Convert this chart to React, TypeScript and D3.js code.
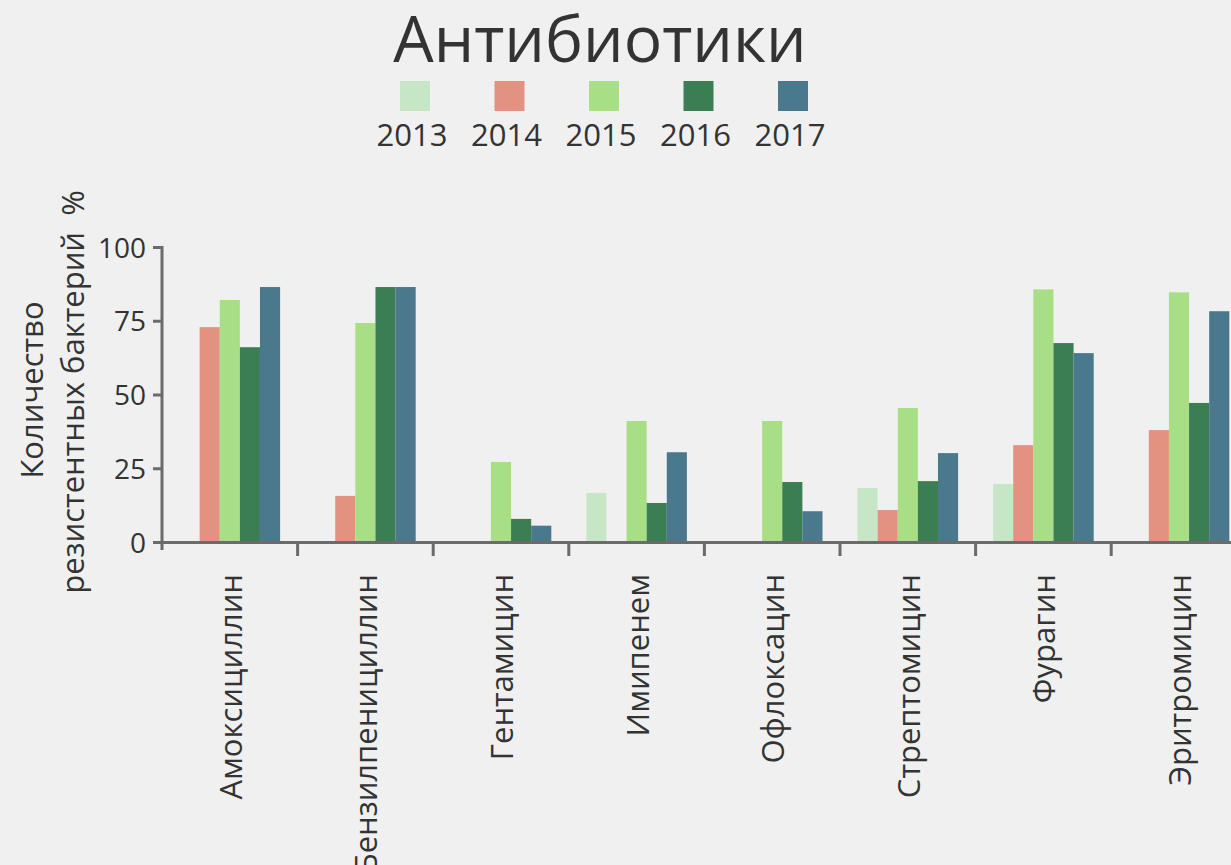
import React from "react";
import * as d3 from "d3";

const categories = ["Амоксициллин", "Бензилпенициллин", "Гентамицин", "Имипенем", "Офлоксацин", "Стрептомицин", "Фурагин", "Эритромицин"];
const years = ["2013", "2014", "2015", "2016", "2017"];
const colors = ["#c7e6c6", "#e39181", "#a8df86", "#3b7e54", "#4a798d"];
const v2013 = [0, 0, 0, 16.8, 0, 18.5, 19.8, 0];
const v2014 = [73.0, 15.8, 0, 0, 0, 11.0, 33.0, 38.1];
const v2015 = [82.2, 74.4, 27.3, 41.2, 41.2, 45.6, 85.8, 84.8];
const v2016 = [66.2, 86.6, 8.0, 13.4, 20.5, 20.8, 67.6, 47.3];
const v2017 = [86.6, 86.6, 5.7, 30.6, 10.6, 30.3, 64.2, 78.4];
const series = [v2013, v2014, v2015, v2016, v2017];
const yTicks = [0, 25, 50, 75, 100];

const W = 1231, H = 865;
const FONT = "'Open Sans', sans-serif";
const AX = "#6b6b6b";
const TXT = "#333333";

export default function App() {
  const x0 = 162, step = 135.6;
  const x = d3.scaleBand<string>().domain(categories).range([x0, x0 + step * categories.length]).paddingInner(0).paddingOuter(0);
  const xi = d3.scaleBand<string>().domain(years).range([0, x.bandwidth()]).paddingInner(0).paddingOuter(0.87);
  const y = d3.scaleLinear().domain([0, 100]).range([542.5, 247.5]);

  return (
    <svg width={W} height={H} style={{ position: "absolute", left: 0, top: 0 }} fontFamily={FONT}>
      <rect x={0} y={0} width={W} height={H} fill="#f0f0f0" />
      <text x={600} y={62} textAnchor="middle" fontSize={64} fill={TXT}>Антибиотики</text>
      {years.map((yr, i) => {
        const cx = 415 + i * 94.5;
        return (
          <g key={yr}>
            <rect x={cx - 15} y={81} width={30} height={30} fill={colors[i]} />
            <text x={cx - 3} y={146} textAnchor="middle" fontSize={31} fill={TXT}>{yr}</text>
          </g>
        );
      })}
      {categories.map((c, ci) => (
        <g key={c}>
          {series.map((s, si) =>
            s[ci] > 0 ? (
              <rect key={si} x={(x(c) as number) + (xi(years[si]) as number)} y={y(s[ci])} width={xi.bandwidth()} height={y(0) - y(s[ci])} fill={colors[si]} />
            ) : null
          )}
        </g>
      ))}
      {/* y axis */}
      <line x1={x0} x2={x0} y1={y(100) - 1.5} y2={550} stroke={AX} strokeWidth={3} />
      {yTicks.map((t) => (
        <g key={t}>
          <line x1={153} x2={x0} y1={y(t)} y2={y(t)} stroke={AX} strokeWidth={3} />
          <text x={146} y={y(t) + 10} textAnchor="end" fontSize={28} fill={TXT}>{t}</text>
        </g>
      ))}
      {/* x axis */}
      <line x1={153} x2={W} y1={y(0)} y2={y(0)} stroke={AX} strokeWidth={3} />
      {categories.map((c) => (
        <line key={c} x1={(x(c) as number) + step} x2={(x(c) as number) + step} y1={y(0)} y2={556} stroke={AX} strokeWidth={3} />
      ))}
      {categories.map((c) => {
        const cx = (x(c) as number) + x.bandwidth() / 2;
        return (
          <text key={c} transform={`translate(${cx + 12},574) rotate(-90)`} textAnchor="end" fontSize={31} fill={TXT}>{c}</text>
        );
      })}
      <text transform="translate(43,390) rotate(-90)" textAnchor="middle" fontSize={31} fill={TXT}>Количество</text>
      <text transform="translate(84,392) rotate(-90)" textAnchor="middle" fontSize={31} fill={TXT} style={{ whiteSpace: "pre" }}>{"резистентных бактерий  %"}</text>
    </svg>
  );
}
